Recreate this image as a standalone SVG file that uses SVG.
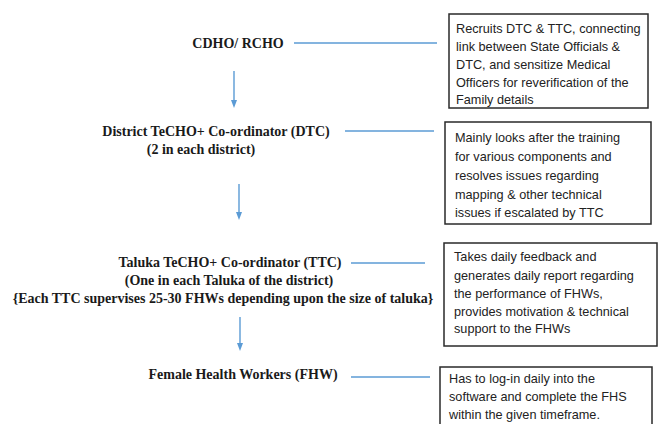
<svg xmlns="http://www.w3.org/2000/svg" width="660" height="424" viewBox="0 0 660 424">
<style>
.role{font-family:"Liberation Serif","Times New Roman",serif;font-weight:bold;font-size:14px;fill:#1a1a1a;text-anchor:middle}
.desc{font-family:"Liberation Sans",Arial,sans-serif;font-size:12.7px;fill:#222}
.box{fill:#fff;stroke:#2a2a2a;stroke-width:1.5}
.conn{stroke:#5b9bd5;stroke-width:1.4;fill:none}
</style>
<defs>
<marker id="ah" markerWidth="8" markerHeight="8" refX="4" refY="4" orient="auto" markerUnits="userSpaceOnUse">
<path d="M0,1 L8,4 L0,7 Z" fill="#5b9bd5"/>
</marker>
</defs>
<rect width="660" height="424" fill="#fff"/>
<g id="connectors">
<line class="conn" x1="294" y1="43" x2="437" y2="43"/>
<line class="conn" x1="345" y1="131" x2="434" y2="131"/>
<line class="conn" x1="351" y1="263" x2="425" y2="263"/>
<line class="conn" x1="351" y1="377" x2="430" y2="377"/>
<line class="conn" x1="234" y1="71" x2="234" y2="104" marker-end="url(#ah)"/>
<line class="conn" x1="239" y1="184" x2="239" y2="216" marker-end="url(#ah)"/>
<line class="conn" x1="240" y1="317" x2="240" y2="347" marker-end="url(#ah)"/>
</g>
<g id="cdho">
<text class="role" x="238" y="48">CDHO/ RCHO</text>
</g>
<g id="dtc">
<text class="role" x="216" y="136">District TeCHO+ Co-ordinator (DTC)</text>
<text class="role" x="201" y="154">(2 in each district)</text>
</g>
<g id="ttc">
<text class="role" x="230" y="267">Taluka TeCHO+ Co-ordinator (TTC)</text>
<text class="role" x="229" y="285">(One in each Taluka of the district)</text>
<text class="role" x="223" y="303">{Each TTC supervises 25-30 FHWs depending upon the size of taluka}</text>
</g>
<g id="fhw">
<text class="role" x="243" y="379">Female Health Workers (FHW)</text>
</g>
<g id="desc-cdho">
<rect class="box" x="449" y="14" width="199" height="94"/>
<text class="desc" x="456" y="33">Recruits DTC &amp; TTC, connecting</text>
<text class="desc" x="456" y="51">link between State Officials &amp;</text>
<text class="desc" x="456" y="69">DTC, and sensitize Medical</text>
<text class="desc" x="456" y="87">Officers for reverification of the</text>
<text class="desc" x="456" y="104">Family details</text>
</g>
<g id="desc-dtc">
<rect class="box" x="445" y="122" width="206" height="102"/>
<text class="desc" x="455" y="142">Mainly looks after the training</text>
<text class="desc" x="455" y="161">for various components and</text>
<text class="desc" x="455" y="180">resolves issues regarding</text>
<text class="desc" x="455" y="199">mapping &amp; other technical</text>
<text class="desc" x="455" y="217">issues if escalated by TTC</text>
</g>
<g id="desc-ttc">
<rect class="box" x="444" y="243" width="213" height="103"/>
<text class="desc" x="454" y="261">Takes daily feedback and</text>
<text class="desc" x="454" y="280">generates daily report regarding</text>
<text class="desc" x="454" y="298">the performance of FHWs,</text>
<text class="desc" x="454" y="316">provides motivation &amp; technical</text>
<text class="desc" x="454" y="333">support to the FHWs</text>
</g>
<g id="desc-fhw">
<rect class="box" x="440" y="367" width="212" height="70"/>
<text class="desc" x="449" y="383">Has to log-in daily into the</text>
<text class="desc" x="449" y="401">software and complete the FHS</text>
<text class="desc" x="449" y="419">within the given timeframe.</text>
</g>
</svg>
